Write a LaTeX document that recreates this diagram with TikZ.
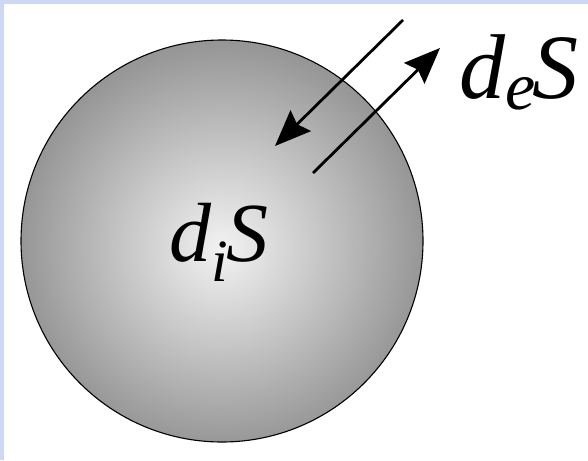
\documentclass[tikz,border=0pt]{standalone}
\usepackage{fontspec}
\setmainfont{Liberation Serif}
\usetikzlibrary{arrows.meta}
\definecolor{frameblue}{HTML}{CDD8F2}
\pgfdeclareradialshading{ball}{\pgfpoint{0bp}{-1bp}}{%
  color(0bp)=(black!5);
  color(12bp)=(black!22);
  color(25bp)=(black!41);
  color(50bp)=(black!41)}
\tikzset{
  flow/.style={line width=2.8pt, -{Stealth[length=36pt,width=29pt,inset=5pt]}},
  lbl/.style={anchor=base west, inner sep=0pt, font=\itshape},
}
\begin{document}
\begin{tikzpicture}[x=1pt,y=-1pt]
  \useasboundingbox (0,0) rectangle (588,460);
  \fill[frameblue] (0,0) rectangle (588,460);
  \fill[white] (4,4) rectangle (588,460);
  % system
  \path[shading=ball, draw=black, line width=1.1pt] (222,241) circle[radius=201];
  \node (sys) at (222,241) {};
  % labels
  \node[lbl] (di) at (169,261) {\fontsize{84}{84}\selectfont d\raisebox{-20pt}{\fontsize{60}{60}\selectfont i}\kern-1pt S};
  \node[lbl] (de) at (459,98) {\fontsize{92}{92}\selectfont d\raisebox{-11pt}{\fontsize{68}{68}\selectfont e}\kern-3pt S};
  % flows
  \coordinate (inS) at (403,20);
  \coordinate (inE) at (275,146);
  \coordinate (outS) at (313,173);
  \coordinate (outE) at (440,48);
  \draw[flow] (inS) -- (inE);
  \draw[flow] (outS) -- (outE);
\end{tikzpicture}
\end{document}
